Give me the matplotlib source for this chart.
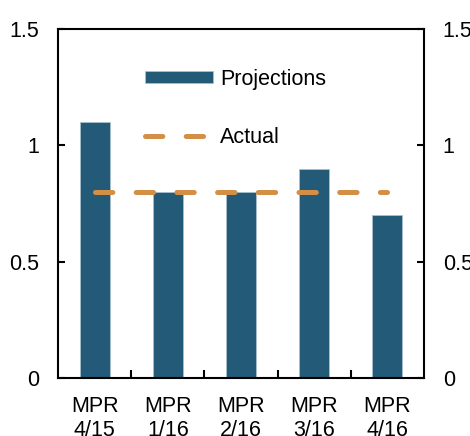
import matplotlib
matplotlib.use("Agg")
import matplotlib.pyplot as plt
from matplotlib.ticker import FixedLocator

categories = ["MPR\n4/15", "MPR\n1/16", "MPR\n2/16", "MPR\n3/16", "MPR\n4/16"]
projections = [1.1, 0.8, 0.8, 0.9, 0.7]
actual = [0.8, 0.8, 0.8, 0.8, 0.8]
yticks = [0, 0.5, 1, 1.5]
ytick_labels = ["0", "0.5", "1", "1.5"]

plt.rcParams['font.family'] = ['Liberation Sans', 'DejaVu Sans']
plt.rcParams['lines.scale_dashes'] = False

bar_color = "#235a78"
line_color = "#d38f45"
fs = 15.5

fig = plt.figure(figsize=(4.7, 4.36), dpi=100)
ax = fig.add_axes([58/470, 1-378/436, (424-58)/470, (378-29)/436])

x = list(range(len(categories)))
bars = ax.bar(x, projections, width=0.41, color=bar_color, edgecolor="#a9c0cd",
              linewidth=0.6, label="Projections", zorder=2)
line, = ax.plot(x, actual, color=line_color, linewidth=3.6, dashes=(12.5, 16.8),
                dash_capstyle='round', label="Actual", zorder=3)

ax.set_xlim(-0.5, len(categories) - 0.5)
ax.set_ylim(0, 1.5)

for s in ax.spines.values():
    s.set_linewidth(1.5)

ax.set_yticks(yticks)
ax.set_yticklabels(ytick_labels)
ax.tick_params(axis='y', direction='in', length=5, width=1.5, labelsize=fs,
               pad=13.5, left=True, right=True, labelleft=True, labelright=True)

ax.xaxis.set_major_locator(FixedLocator([i + 0.5 for i in range(len(categories) - 1)]))
ax.xaxis.set_major_formatter(plt.NullFormatter())
ax.xaxis.set_minor_locator(FixedLocator(x))
ax.set_xticklabels(categories, minor=True)
ax.tick_params(axis='x', which='major', direction='in', length=6, width=1.5)
ax.tick_params(axis='x', which='minor', length=0, labelsize=fs, pad=13)
for lbl in ax.get_xticklabels(minor=True):
    lbl.set_linespacing(1.18)

leg = ax.legend([bars, line], ["Projections", "Actual"],
                loc='upper left', bbox_to_anchor=(0.238, 0.886), frameon=False,
                fontsize=fs, handlelength=3.15, handleheight=0.5,
                handletextpad=0.33, labelspacing=1.71, borderaxespad=0,
                borderpad=0)

fig.savefig("out.png", dpi=100)
